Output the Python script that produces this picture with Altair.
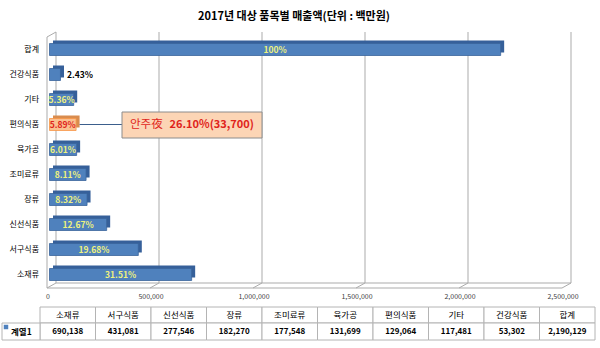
import altair as alt
import pandas as pd

# ---------------- data ----------------
categories = ["합계", "건강식품", "기타", "편의식품", "육가공", "조미료류", "장류", "신선식품", "서구식품", "소재류"]
sales = [2190129, 53302, 117481, 129064, 131699, 177548, 182270, 277546, 431081, 690138]
shares = ["100%", "2.43%", "5.36%", "5.89%", "6.01%", "8.11%", "8.32%", "12.67%", "19.68%", "31.51%"]
table_order = ["소재류", "서구식품", "신선식품", "장류", "조미료류", "육가공", "편의식품", "기타", "건강식품", "합계"]
x_ticks = [0, 500000, 1000000, 1500000, 2000000, 2500000]
x_tick_labels = ["0", "500,000", "1,000,000", "1,500,000", "2,000,000", "2,500,000"]
highlight_category = "편의식품"
callout_name = "안주夜"
callout_figures = "26.10%(33,700)"
title_text = "2017년 대상 품목별 매출액(단위 : 백만원)"
series_name = "계열1"

FONT = "Noto Sans CJK KR"
BLUE = "#4F81BD"
BLUE_DARK = "#36609A"
BLUE_EDGE = "#3A659C"
ORANGE = "#FAC090"
ORANGE_DARK = "#D98C4E"
ORANGE_EDGE = "#F79646"
RED = "#E0241B"
YELLOW = "#EEF27E"
GRID = "#ABABAB"
TABLE_LINE = "#B4B4B4"

bars = pd.DataFrame({"cat": categories, "value": sales, "share": shares})
bars["mid"] = bars["value"] / 2
bars["hl"] = bars["cat"] == highlight_category
bars["outside"] = bars["value"] < 100000

ticks = pd.DataFrame({"t": x_ticks, "label": x_tick_labels})
frame = pd.DataFrame({"a": [x_ticks[0]], "b": [x_ticks[-1]]})
table = pd.DataFrame({"cat": table_order}).merge(bars[["cat", "value"]], on="cat")
table["value_label"] = table["value"].map(lambda v: f"{v:,}")
one = bars[bars["hl"]]

xs = alt.Scale(domain=[x_ticks[0], x_ticks[-1]], range=[47, 562], nice=False, zero=False)
ys = alt.Scale(domain=categories, range=[37, 287], paddingInner=0.52, paddingOuter=0.26)
ts = alt.Scale(domain=table_order, range=[40, 595], paddingInner=0, paddingOuter=0)


def XQ(field):
    return alt.X(field, type="quantitative", scale=xs, axis=None)


YC = alt.Y("cat:N", scale=ys, axis=None)

# ---------------- 3D frame ----------------
grid = alt.Chart(ticks).mark_rule(color=GRID, strokeWidth=1, xOffset=9).encode(
    x=XQ("t"), y=alt.value(32), y2=alt.value(283))
floor_slants = alt.Chart(ticks).mark_rule(color=GRID, strokeWidth=1, x2Offset=9).encode(
    x=XQ("t"), x2=alt.X2("t"), y=alt.value(288), y2=alt.value(283))
floor_front = alt.Chart(frame).mark_rule(color=GRID, strokeWidth=1).encode(
    x=XQ("a"), x2=alt.X2("b"), y=alt.value(288))
floor_back = alt.Chart(frame).mark_rule(color=GRID, strokeWidth=1, xOffset=9, x2Offset=9).encode(
    x=XQ("a"), x2=alt.X2("b"), y=alt.value(283))
left_wall = alt.Chart(frame).mark_rule(color=GRID, strokeWidth=1).encode(
    x=XQ("a"), y=alt.value(37), y2=alt.value(288))
left_top = alt.Chart(frame).mark_rule(color=GRID, strokeWidth=1, x2Offset=9).encode(
    x=XQ("a"), x2=alt.X2("a"), y=alt.value(37), y2=alt.value(32))

tick_text = alt.Chart(ticks).mark_text(font=FONT, fontSize=7, color="#404040", dx=1).encode(
    x=XQ("t"), y=alt.value(297), text="label:N")

# ---------------- bars ----------------
back_bars = alt.Chart(bars).mark_bar(xOffset=6, x2Offset=6, yOffset=-3).encode(
    x=XQ("value"), y=YC,
    color=alt.condition("datum.hl", alt.value(ORANGE_DARK), alt.value(BLUE_DARK)))
front_bars = alt.Chart(bars).mark_bar(xOffset=2.5, x2Offset=2.5, strokeWidth=0.8).encode(
    x=XQ("value"), y=YC,
    color=alt.condition("datum.hl", alt.value(ORANGE), alt.value(BLUE)),
    stroke=alt.condition("datum.hl", alt.value(ORANGE_EDGE), alt.value(BLUE_EDGE)))

inside_labels = alt.Chart(bars).transform_filter("!datum.outside").mark_text(
    font=FONT, fontSize=8.5, fontWeight="bold", dx=2.5).encode(
    x=XQ("mid"), y=YC, text="share:N",
    color=alt.condition("datum.hl", alt.value(RED), alt.value(YELLOW)))
outside_labels = alt.Chart(bars).transform_filter("datum.outside").mark_text(
    font=FONT, fontSize=8.5, fontWeight="bold", align="left", dx=9, color="#000000").encode(
    x=XQ("value"), y=YC, text="share:N")

cat_labels = alt.Chart(bars).mark_text(font=FONT, fontSize=8, align="right", color="#000000").encode(
    x=alt.value(39), y=YC, text="cat:N")

# ---------------- callout ----------------
connector = alt.Chart(one).mark_rule(color="#3B5E8C", strokeWidth=1, xOffset=6).encode(
    x=XQ("value"), x2=alt.value(122), y=YC)
box = alt.Chart(one).mark_rect(fill="#FCD5B5", stroke="#8C8C8C", strokeWidth=1).encode(
    x=alt.value(122), x2=alt.value(262), y=alt.value(112), y2=alt.value(138))
callout_1 = alt.Chart(one).mark_text(font=FONT, fontSize=11.5, align="left", color=RED).encode(
    x=alt.value(130), y=alt.value(125), text=alt.value(callout_name))
callout_2 = alt.Chart(one).mark_text(font=FONT, fontSize=11, fontWeight="bold", align="right", color=RED).encode(
    x=alt.value(254), y=alt.value(125), text=alt.value(callout_figures))

# ---------------- data table ----------------
XT = alt.X("cat:N", scale=ts, axis=None)
head_cells = alt.Chart(table).mark_rect(fill="white", stroke=TABLE_LINE, strokeWidth=1).encode(
    x=XT, y=alt.value(307), y2=alt.value(323))
value_cells = alt.Chart(table).mark_rect(fill="white", stroke=TABLE_LINE, strokeWidth=1).encode(
    x=XT, y=alt.value(323), y2=alt.value(340))
name_cell = alt.Chart(one).mark_rect(fill="white", stroke=TABLE_LINE, strokeWidth=1).encode(
    x=alt.value(2), x2=alt.value(40), y=alt.value(323), y2=alt.value(340))
head_text = alt.Chart(table).mark_text(font=FONT, fontSize=8.5, color="#000000").encode(
    x=XT, y=alt.value(315), text="cat:N")
value_text = alt.Chart(table).mark_text(font=FONT, fontSize=8, fontWeight="bold", color="#000000").encode(
    x=XT, y=alt.value(332), text="value_label:N")
swatch = alt.Chart(one).mark_square(size=20, color=BLUE, opacity=1).encode(
    x=alt.value(6), y=alt.value(327))
series_text = alt.Chart(one).mark_text(font=FONT, fontSize=8.5, fontWeight="bold", align="left").encode(
    x=alt.value(11), y=alt.value(332), text=alt.value(series_name))

title = alt.Chart(one).mark_text(font=FONT, fontSize=11, fontWeight="bold", color="#000000").encode(
    x=alt.value(294), y=alt.value(17), text=alt.value(title_text))

chart = alt.layer(
    grid, floor_slants, floor_front, floor_back, left_wall, left_top, tick_text,
    back_bars, front_bars, inside_labels, outside_labels, cat_labels,
    connector, box, callout_1, callout_2,
    head_cells, value_cells, name_cell, head_text, value_text, swatch, series_text,
    title,
).resolve_scale(x="independent").properties(
    width=600, height=348, autosize=alt.AutoSizeParams(type="none"), padding=0,
    background="white",
).configure_view(stroke=None)

chart.save("out.html", embed_options={"renderer": "svg", "actions": False})
